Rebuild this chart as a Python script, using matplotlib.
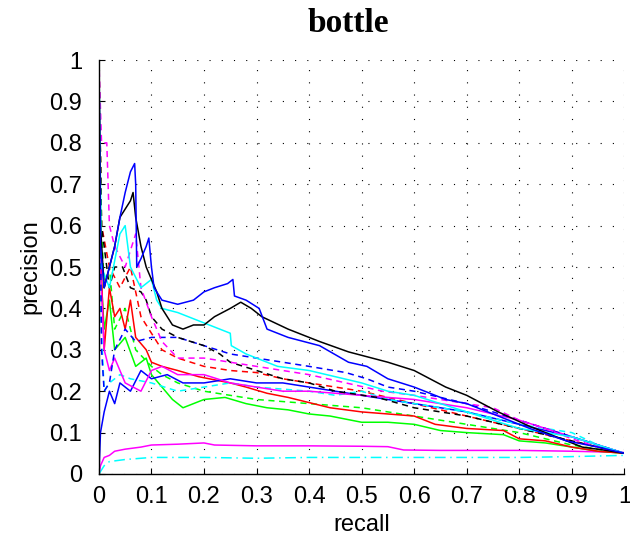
import matplotlib
matplotlib.use("Agg")
from matplotlib import pyplot as plt

# precision / recall curves (bottle class)
rec_blue = [0, 0.003, 0.01, 0.02, 0.03, 0.04, 0.05, 0.06, 0.068, 0.07, 0.072, 0.08, 0.09, 0.095, 0.1, 0.105,
            0.11, 0.12, 0.15, 0.18, 0.2, 0.22, 0.245, 0.255, 0.258, 0.28, 0.305, 0.32, 0.36, 0.42, 0.475, 0.51,
            0.55, 0.6, 0.66, 0.7, 0.76, 0.82, 0.89, 0.95, 1.0]
prec_blue = [1.0, 0.55, 0.45, 0.5, 0.55, 0.62, 0.68, 0.73, 0.75, 0.7, 0.5, 0.52, 0.55, 0.57, 0.5, 0.45,
             0.44, 0.42, 0.41, 0.42, 0.44, 0.45, 0.46, 0.47, 0.43, 0.42, 0.40, 0.35, 0.33, 0.31, 0.27, 0.26,
             0.23, 0.21, 0.18, 0.17, 0.14, 0.11, 0.08, 0.065, 0.05]

rec_black = [0, 0.003, 0.01, 0.02, 0.03, 0.04, 0.05, 0.06, 0.065, 0.07, 0.08, 0.09, 0.1, 0.11, 0.12, 0.14,
             0.16, 0.18, 0.2, 0.22, 0.25, 0.27, 0.29, 0.31, 0.36, 0.42, 0.475, 0.55, 0.6, 0.66, 0.7, 0.76,
             0.82, 0.87, 0.92, 0.96, 1.0]
prec_black = [1.0, 0.6, 0.45, 0.5, 0.55, 0.62, 0.64, 0.66, 0.68, 0.62, 0.55, 0.5, 0.47, 0.44, 0.40, 0.36,
              0.35, 0.36, 0.36, 0.38, 0.40, 0.415, 0.40, 0.38, 0.35, 0.32, 0.295, 0.27, 0.25, 0.21, 0.19, 0.15,
              0.115, 0.09, 0.065, 0.058, 0.05]

rec_cyan = [0, 0.005, 0.02, 0.04, 0.05, 0.06, 0.08, 0.1, 0.11, 0.12, 0.15, 0.19, 0.21, 0.25, 0.252, 0.28,
            0.34, 0.4, 0.45, 0.5, 0.55, 0.6, 0.65, 0.7, 0.75, 0.8, 0.85, 0.9, 0.95, 1.0]
prec_cyan = [1.0, 0.5, 0.45, 0.58, 0.6, 0.5, 0.45, 0.47, 0.42, 0.40, 0.39, 0.37, 0.36, 0.34, 0.31, 0.29,
             0.26, 0.25, 0.235, 0.22, 0.2, 0.19, 0.17, 0.15, 0.13, 0.11, 0.1, 0.09, 0.07, 0.05]

rec_red = [0, 0.003, 0.01, 0.02, 0.03, 0.04, 0.05, 0.06, 0.07, 0.09, 0.1, 0.12, 0.15, 0.19, 0.25, 0.28,
           0.32, 0.36, 0.44, 0.5, 0.55, 0.6, 0.64, 0.7, 0.77, 0.8, 0.85, 0.9, 0.95, 1.0]
prec_red = [1.0, 0.55, 0.3, 0.45, 0.38, 0.4, 0.35, 0.42, 0.33, 0.3, 0.27, 0.26, 0.25, 0.235, 0.22, 0.21,
            0.195, 0.185, 0.16, 0.15, 0.145, 0.14, 0.12, 0.11, 0.105, 0.085, 0.08, 0.065, 0.055, 0.05]

rec_green = [0, 0.003, 0.01, 0.02, 0.03, 0.05, 0.07, 0.09, 0.1, 0.12, 0.14, 0.16, 0.18, 0.2, 0.24, 0.28,
             0.32, 0.36, 0.4, 0.44, 0.5, 0.55, 0.6, 0.65, 0.7, 0.77, 0.8, 0.85, 0.9, 0.95, 1.0]
prec_green = [1.0, 0.5, 0.35, 0.42, 0.3, 0.33, 0.26, 0.28, 0.24, 0.21, 0.18, 0.16, 0.17, 0.18, 0.185, 0.17,
              0.16, 0.155, 0.145, 0.14, 0.125, 0.125, 0.12, 0.105, 0.1, 0.095, 0.08, 0.075, 0.065, 0.055, 0.05]

rec_blue2 = [0, 0.003, 0.01, 0.02, 0.03, 0.04, 0.06, 0.08, 0.1, 0.13, 0.16, 0.2, 0.25, 0.3, 0.35, 0.4,
             0.5, 0.6, 0.7, 0.8, 0.9, 1.0]
prec_blue2 = [0.0, 0.1, 0.15, 0.2, 0.17, 0.22, 0.2, 0.25, 0.23, 0.24, 0.22, 0.22, 0.23, 0.22, 0.22, 0.21,
              0.19, 0.17, 0.15, 0.12, 0.09, 0.05]

rec_magenta = [0, 0.003, 0.01, 0.02, 0.03, 0.05, 0.08, 0.1, 0.12, 0.15, 0.2, 0.25, 0.3, 0.35, 0.4, 0.5,
               0.6, 0.7, 0.8, 0.9, 1.0]
prec_magenta = [1.0, 0.5, 0.3, 0.25, 0.28, 0.22, 0.2, 0.25, 0.26, 0.24, 0.24, 0.22, 0.21, 0.2, 0.2, 0.19,
                0.18, 0.16, 0.13, 0.09, 0.05]

rec_mag_low = [0, 0.003, 0.01, 0.02, 0.03, 0.05, 0.08, 0.1, 0.15, 0.2, 0.22, 0.3, 0.4, 0.5, 0.55, 0.58,
               0.65, 0.8, 0.9, 1.0]
prec_mag_low = [0.0, 0.02, 0.04, 0.045, 0.055, 0.06, 0.065, 0.07, 0.072, 0.075, 0.07, 0.068, 0.068, 0.067,
                0.066, 0.058, 0.057, 0.057, 0.055, 0.052]

# dashed ones
rec_black_d = [0, 0.005, 0.02, 0.03, 0.045, 0.06, 0.08, 0.09, 0.1, 0.12, 0.15, 0.2, 0.23, 0.25, 0.3, 0.35,
               0.4, 0.45, 0.53, 0.6, 0.7, 0.8, 0.9, 1.0]
prec_black_d = [1.0, 0.6, 0.45, 0.5, 0.5, 0.45, 0.44, 0.42, 0.38, 0.35, 0.33, 0.31, 0.29, 0.27, 0.25, 0.23,
                0.22, 0.2, 0.185, 0.16, 0.14, 0.11, 0.08, 0.05]

rec_blue_d = [0, 0.005, 0.01, 0.02, 0.03, 0.05, 0.07, 0.1, 0.15, 0.2, 0.25, 0.3, 0.35, 0.4, 0.47, 0.51,
              0.55, 0.6, 0.7, 0.8, 0.9, 1.0]
prec_blue_d = [1.0, 0.3, 0.2, 0.22, 0.3, 0.35, 0.32, 0.33, 0.33, 0.31, 0.29, 0.28, 0.27, 0.26, 0.245, 0.23,
               0.21, 0.2, 0.17, 0.13, 0.09, 0.05]

rec_mag_d = [0, 0.005, 0.015, 0.02, 0.03, 0.05, 0.07, 0.08, 0.1, 0.12, 0.15, 0.2, 0.25, 0.3, 0.35, 0.4,
             0.47, 0.54, 0.6, 0.7, 0.75, 0.8, 0.85, 0.9, 0.95, 1.0]
prec_mag_d = [1.0, 0.8, 0.8, 0.6, 0.55, 0.5, 0.58, 0.45, 0.38, 0.32, 0.28, 0.28, 0.27, 0.26, 0.25, 0.24,
              0.22, 0.2, 0.19, 0.17, 0.16, 0.13, 0.11, 0.085, 0.065, 0.05]

rec_red_d = [0, 0.005, 0.02, 0.04, 0.06, 0.08, 0.1, 0.12, 0.15, 0.2, 0.25, 0.3, 0.35, 0.4, 0.5, 0.6,
             0.7, 0.8, 0.9, 1.0]
prec_red_d = [1.0, 0.6, 0.5, 0.45, 0.5, 0.38, 0.34, 0.3, 0.28, 0.26, 0.25, 0.245, 0.23, 0.22, 0.2, 0.17,
              0.14, 0.11, 0.08, 0.05]

rec_green_d = [0, 0.005, 0.01, 0.02, 0.03, 0.05, 0.07, 0.1, 0.12, 0.15, 0.2, 0.25, 0.3, 0.4, 0.5, 0.6,
               0.7, 0.8, 0.9, 1.0]
prec_green_d = [1.0, 0.6, 0.45, 0.5, 0.35, 0.4, 0.3, 0.26, 0.24, 0.22, 0.2, 0.19, 0.18, 0.17, 0.16, 0.14,
                0.12, 0.1, 0.07, 0.05]

rec_cyan_d = [0, 0.003, 0.01, 0.02, 0.04, 0.06, 0.1, 0.15, 0.2, 0.25, 0.3, 0.4, 0.45, 0.5, 0.55, 0.6,
              0.7, 0.8, 0.85, 0.9, 0.95, 1.0]
prec_cyan_d = [1.0, 0.4, 0.2, 0.22, 0.24, 0.23, 0.22, 0.2, 0.21, 0.22, 0.21, 0.2, 0.19, 0.2, 0.18, 0.17,
               0.15, 0.12, 0.11, 0.1, 0.07, 0.05]

rec_cyan_low = [0, 0.005, 0.01, 0.02, 0.05, 0.1, 0.2, 0.3, 0.4, 0.5, 0.6, 0.7, 0.8, 0.9, 1.0]
prec_cyan_low = [0.0, 0.01, 0.02, 0.03, 0.035, 0.04, 0.04, 0.038, 0.04, 0.04, 0.04, 0.04, 0.04, 0.042, 0.045]

ticks = [0, 0.1, 0.2, 0.3, 0.4, 0.5, 0.6, 0.7, 0.8, 0.9, 1]
tick_labels = ["0", "0.1", "0.2", "0.3", "0.4", "0.5", "0.6", "0.7", "0.8", "0.9", "1"]

plt.rcParams['font.family'] = ['Liberation Sans', 'DejaVu Sans']

fig = plt.figure(figsize=(6.3, 5.39), dpi=100)
ax = fig.add_axes([0.157, 0.1206, 0.834, 0.768])

lw = 1.1
dash = (0, (4, 3))
dashdot = (0, (7, 3, 1, 3))
B, K, C, R, G, M = '#0000ff', '#000000', '#00ffff', '#ff0000', '#00ff00', '#ff00ff'

ax.plot(rec_cyan_low, prec_cyan_low, color=C, lw=lw, linestyle=dashdot)
ax.plot(rec_mag_low, prec_mag_low, color=M, lw=lw)
ax.plot(rec_green, prec_green, color=G, lw=lw)
ax.plot(rec_green_d, prec_green_d, color=G, lw=lw, linestyle=dash)
ax.plot(rec_red, prec_red, color=R, lw=lw)
ax.plot(rec_red_d, prec_red_d, color=R, lw=lw, linestyle=dash)
ax.plot(rec_blue2, prec_blue2, color=B, lw=lw)
ax.plot(rec_cyan_d, prec_cyan_d, color=C, lw=lw, linestyle=dash)
ax.plot(rec_magenta, prec_magenta, color=M, lw=lw)
ax.plot(rec_blue_d, prec_blue_d, color=B, lw=lw, linestyle=dash)
ax.plot(rec_black_d, prec_black_d, color=K, lw=lw, linestyle=dash)
ax.plot(rec_mag_d, prec_mag_d, color=M, lw=lw, linestyle=dash)
ax.plot(rec_cyan, prec_cyan, color=C, lw=lw)
ax.plot(rec_black, prec_black, color=K, lw=lw)
ax.plot(rec_blue, prec_blue, color=B, lw=lw)

ax.set_xlim(0, 1)
ax.set_ylim(0, 1)
ax.set_xticks(ticks)
ax.set_yticks(ticks)
ax.set_xticklabels(tick_labels)
ax.set_yticklabels(tick_labels)
ax.tick_params(direction='in', length=4, width=0.8, labelsize=17)
ax.tick_params(axis='y', pad=12)
ax.tick_params(axis='x', pad=9)
ax.grid(True, color='k', linestyle=(0, (1, 10)), linewidth=0.8)
ax.spines['top'].set_visible(False)
ax.spines['right'].set_visible(False)
ax.spines['left'].set_linewidth(1.0)
ax.spines['bottom'].set_linewidth(1.0)

ax.set_xlabel("recall", fontsize=17, labelpad=4)
ax.set_ylabel("precision", fontsize=17, labelpad=6)
ax.set_title("bottle", fontsize=24, fontweight='bold', family='Liberation Serif', pad=20, x=0.475)

plt.savefig("out.png", dpi=100)
plt.close()
